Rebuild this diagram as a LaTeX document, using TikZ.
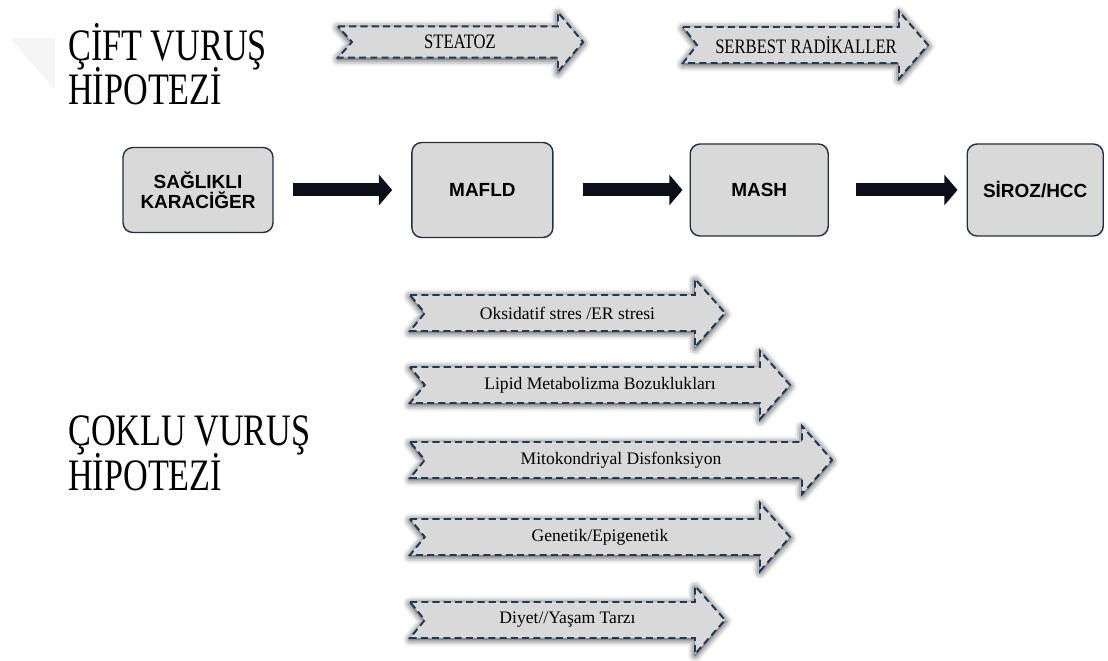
\documentclass[tikz,border=0pt]{standalone}
\usepackage{fontspec}
\setmainfont{Liberation Serif}
\setsansfont{Liberation Sans}
\newfontfamily\titlefont[FakeStretch=0.76]{Liberation Serif}
\newfontfamily\hitcapsfont[FakeStretch=0.81]{Liberation Serif}
\newcommand{\titlesetup}{\titlefont\fontsize{32}{32}\selectfont\lineskiplimit=-50pt\relax}
\usepackage{tikz}
\usetikzlibrary{arrows.meta, positioning, calc, shadows.blur}
\definecolor{stagegray}{HTML}{D9D9D9}
\definecolor{edgenavy}{HTML}{1F3A56}
\definecolor{boxedge}{HTML}{22303F}
\definecolor{flowblack}{HTML}{0B0F1A}

\begin{document}
\begin{tikzpicture}[
  stagebox/.style={rectangle, rounded corners=7pt, draw=boxedge, line width=1pt, fill=stagegray,
    font=\sffamily\bfseries\fontsize{13.5}{14.5}\selectfont, align=center, minimum height=2.3cm, inner sep=2pt},
  flowarrow/.style={draw=flowblack, line width=0.325cm, -{Triangle[length=0.33cm, width=0.75cm]}},
  hitarrow/.style={draw=edgenavy, fill=stagegray, line width=1.4pt, dash pattern=on 5pt off 3pt, line join=miter,
    blur shadow={shadow xshift=0pt, shadow yshift=-1pt, shadow blur radius=5pt, shadow opacity=90}},
  hitlabel/.style={font=\fontsize{12.5}{14}\selectfont, inner sep=0pt},
  caplabel/.style={font=\hitcapsfont\fontsize{14.6}{16}\selectfont, inner sep=0pt},
  hypotitle/.style={font=\titlesetup, align=left, anchor=base west, inner sep=0pt}
]
  \useasboundingbox (0,0) rectangle (27.7,16.5);

  % faint corner mark
  \fill[gray!8] (0.25,15.55) -- (1.375,15.55) -- (1.375,14.25) -- cycle;

  % ===== Titles =====
  \node[hypotitle] (cift) at (1.7, 13.875) {ÇİFT VURUŞ\\HİPOTEZİ};
  \node[hypotitle] (coklu) at (1.7, 4.25) {ÇOKLU VURUŞ\\HİPOTEZİ};

  % ===== Top hits =====
  \draw[hitarrow] (8.45,15.84) -- (13.95,15.84) -- (13.95,16.19) -- (14.575,15.45) -- (13.95,14.71)
    -- (13.95,15.06) -- (8.45,15.06) -- (8.8,15.45) -- cycle;
  \node[caplabel] (steatoz) at (11.5, 15.45) {STEATOZ};

  \draw[hitarrow] (17.075,15.825) -- (22.475,15.825) -- (22.475,16.215) -- (23.2,15.375) -- (22.475,14.535)
    -- (22.475,14.925) -- (17.075,14.925) -- (17.425,15.375) -- cycle;
  \node[caplabel] (radikal) at (20.15, 15.375) {SERBEST RADİKALLER};

  % ===== Disease stages =====
  \node[stagebox, minimum width=3.75cm, minimum height=2.125cm] (sag) at (4.95, 11.75) {SAĞLIKLI\\KARACİĞER};
  \node[stagebox, minimum width=3.525cm, minimum height=2.375cm] (mafld) at (12.06, 11.75) {MAFLD};
  \node[stagebox, minimum width=3.45cm] (mash) at (18.98, 11.75) {MASH};
  \node[stagebox, minimum width=3.4cm] (siroz) at (25.88, 11.75) {SİROZ/HCC};

  \draw[flowarrow, shorten <=0.475cm, shorten >=0.475cm] (sag.east) -- (mafld.west);
  \draw[flowarrow, shorten <=0.725cm, shorten >=0.175cm] (mafld.east) -- (mash.west);
  \draw[flowarrow, shorten <=0.675cm, shorten >=0.225cm] (mash.east) -- (siroz.west);

  % ===== Multiple hits =====
  \foreach \nm/\xh/\yc/\txt in {oksidatif/17.375/8.675/{Oksidatif stres /ER stresi},
      lipid/19.0/6.875/{Lipid Metabolizma Bozuklukları}, mito/20.05/5.0/{Mitokondriyal Disfonksiyon},
      genetik/19.0/3.075/{Genetik/Epigenetik}, diyet/17.375/1.0/{Diyet//Yaşam Tarzı}} {
    \draw[hitarrow] (10.25,\yc+0.45) -- (\xh,\yc+0.45) -- (\xh,\yc+0.85) -- (\xh+0.75,\yc) -- (\xh,\yc-0.85)
      -- (\xh,\yc-0.45) -- (10.25,\yc-0.45) -- (10.62,\yc) -- cycle;
    \node[hitlabel] (\nm) at ({(10.25+\xh+0.75)/2}, \yc) {\txt};
  }
\end{tikzpicture}
\end{document}
